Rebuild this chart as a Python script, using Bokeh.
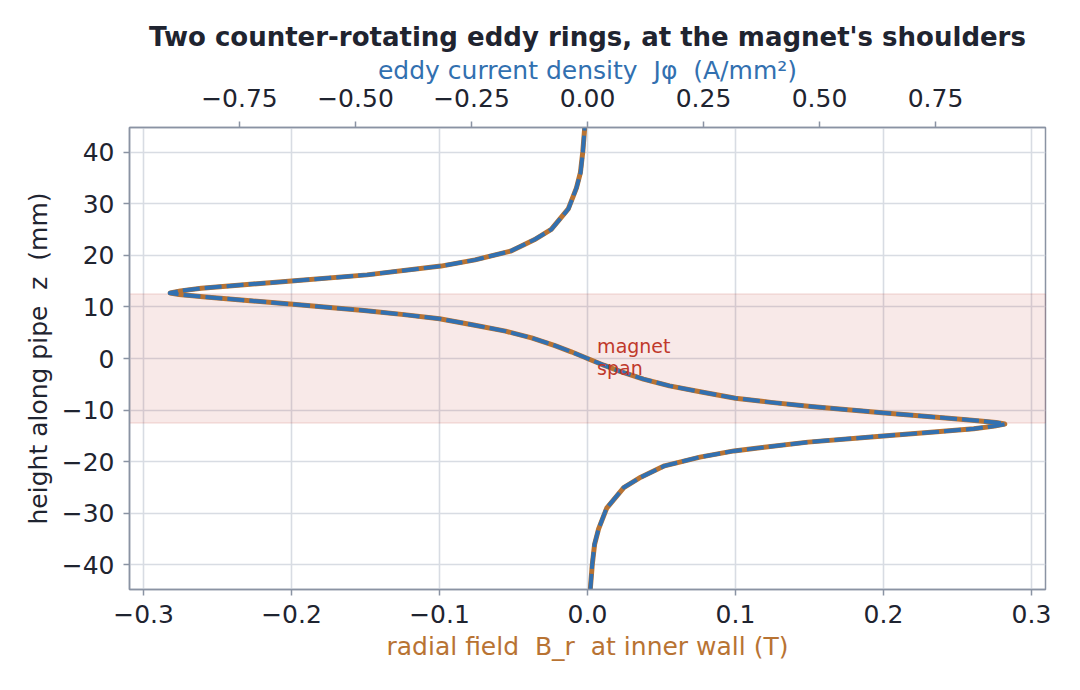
from bokeh.plotting import figure
from bokeh.models import (Range1d, LinearAxis, FixedTicker, BoxAnnotation, Label,
                          CustomJSTickFormatter, ColumnDataSource)
from bokeh.embed import file_html
from bokeh.resources import INLINE

# ---------------- data ----------------
z_mm = [-45.0, -40.0, -36.0, -33.0, -29.0, -25.0, -23.0, -20.8, -19.1, -17.9,
        -16.2, -15.0, -14.3, -13.6, -13.1, -12.7, -12.4, -11.9, -11.3, -10.5,
        -9.3, -8.5, -7.7, -6.5, -5.3, -4.0, -2.5, -1.3, 0.0, 1.3,
        2.5, 4.0, 5.3, 6.5, 7.7, 8.5, 9.3, 10.5, 11.3, 11.9,
        12.4, 12.7, 13.1, 13.6, 14.3, 15.0, 16.2, 17.9, 19.1, 20.8,
        23.0, 25.0, 29.0, 33.0, 36.0, 40.0, 45.0]

B_r_T = [0.0018, 0.0032, 0.0048, 0.0075, 0.013, 0.0245, 0.036, 0.052, 0.076, 0.099,
         0.149, 0.200, 0.232, 0.261, 0.275, 0.282, 0.276, 0.258, 0.232, 0.199,
         0.151, 0.124, 0.100, 0.077, 0.0554, 0.0378, 0.022, 0.011, 0.0, -0.011,
         -0.022, -0.0378, -0.0554, -0.077, -0.100, -0.124, -0.151, -0.199, -0.232, -0.258,
         -0.276, -0.282, -0.275, -0.261, -0.232, -0.200, -0.149, -0.099, -0.076, -0.052,
         -0.036, -0.0245, -0.013, -0.0075, -0.0048, -0.0032, -0.0018]

J_phi = [0.006, 0.010, 0.015, 0.024, 0.041, 0.078, 0.115, 0.166, 0.242, 0.316,
         0.475, 0.638, 0.740, 0.833, 0.877, 0.900, 0.880, 0.823, 0.740, 0.635,
         0.482, 0.396, 0.319, 0.246, 0.177, 0.121, 0.070, 0.035, 0.0, -0.035,
         -0.070, -0.121, -0.177, -0.246, -0.319, -0.396, -0.482, -0.635, -0.740, -0.823,
         -0.880, -0.900, -0.877, -0.833, -0.740, -0.638, -0.475, -0.316, -0.242, -0.166,
         -0.115, -0.078, -0.041, -0.024, -0.015, -0.010, -0.006]

magnet_span = [-12.5, 12.5]

z_ticks = [-40, -30, -20, -10, 0, 10, 20, 30, 40]
B_ticks = [-0.3, -0.2, -0.1, 0.0, 0.1, 0.2, 0.3]
J_ticks = [-0.75, -0.5, -0.25, 0.0, 0.25, 0.5, 0.75]

# ---------------- style ----------------
FONT = "DejaVu Sans"
DARK = "#1f2430"
AXIS_GRAY = "#8a93a3"
GRID = "#d8dce3"
BLUE = "#3270b0"
ORANGE = "#b87333"
RED = "#c0392b"
NB = "\u00a0"

p = figure(width=1064, height=674, output_backend="svg", toolbar_location=None,
           x_range=Range1d(-0.3095, 0.3095), y_range=Range1d(-44.75, 44.75),
           min_border_left=129, min_border_right=19, min_border_top=127,
           min_border_bottom=85)
p.extra_x_ranges = {"jphi": Range1d(-0.987, 0.987)}

p.title.text = "Two counter-rotating eddy rings, at the magnet's shoulders"
p.title.text_font = FONT
p.title.text_font_size = "26px"
p.title.text_font_style = "bold"
p.title.text_color = DARK
p.title.align = "center"
p.title.standoff = 2

p.outline_line_color = AXIS_GRAY
p.outline_line_width = 1.5
p.background_fill_color = "white"
p.border_fill_color = "white"

def fmt(decimals):
    return CustomJSTickFormatter(code=f"""
        const s = Math.abs(tick).toFixed({decimals});
        return (tick < -1e-9 ? '\\u2212' : '') + s;
    """)

bottom = p.below[0]
left = p.left[0]
top = LinearAxis(x_range_name="jphi")
p.add_layout(top, "above")

for ax in [bottom, left, top]:
    ax.axis_line_color = AXIS_GRAY
    ax.axis_line_width = 1.5
    ax.major_tick_line_color = AXIS_GRAY
    ax.major_tick_line_width = 1.5
    ax.major_tick_out = 6
    ax.major_tick_in = 0
    ax.minor_tick_line_color = None
    ax.major_label_text_font = FONT
    ax.major_label_text_font_size = "25px"
    ax.major_label_text_color = DARK
    ax.major_label_standoff = 9
    ax.axis_label_text_font = FONT
    ax.axis_label_text_font_size = "25px"
    ax.axis_label_text_font_style = "normal"
    ax.axis_label_standoff = 6

top.major_label_standoff = 15
top.axis_label_standoff = 1

bottom.ticker = FixedTicker(ticks=B_ticks)
bottom.formatter = fmt(1)
bottom.axis_label = "radial field " + NB + "B_r " + NB + "at inner wall (T)"
bottom.axis_label_text_color = ORANGE

top.ticker = FixedTicker(ticks=J_ticks)
top.formatter = fmt(2)
top.axis_label = "eddy current density " + NB + "J\u03c6 " + NB + "(A/mm\u00b2)"
top.axis_label_text_color = BLUE

left.ticker = FixedTicker(ticks=z_ticks)
left.formatter = fmt(0)
left.axis_label = "height along pipe " + NB + "z " + NB + "(mm)"
left.axis_label_text_color = DARK

p.xgrid.ticker = FixedTicker(ticks=B_ticks)
p.ygrid.ticker = FixedTicker(ticks=z_ticks)
p.grid.grid_line_color = GRID
p.grid.grid_line_width = 1.6

band = BoxAnnotation(bottom=magnet_span[0], top=magnet_span[1], fill_color=RED,
                     fill_alpha=0.11, line_color=RED, line_alpha=0.2, line_width=1,
                     level="underlay")
p.add_layout(band)

src = ColumnDataSource(dict(z=z_mm, b=B_r_T, j=J_phi))
p.line("b", "z", source=src, line_color=ORANGE, line_width=5, line_join="round")
p.line("j", "z", source=src, x_range_name="jphi", line_color=BLUE, line_width=4,
       line_dash="17 5", line_join="round")

p.add_layout(Label(x=0.0065, y=4.6, text="magnet\nspan", text_font=FONT,
                   text_font_size="19px", text_color=RED, text_baseline="top",
                   text_line_height=1.0))

open("out.html", "w").write(file_html(p, INLINE))
